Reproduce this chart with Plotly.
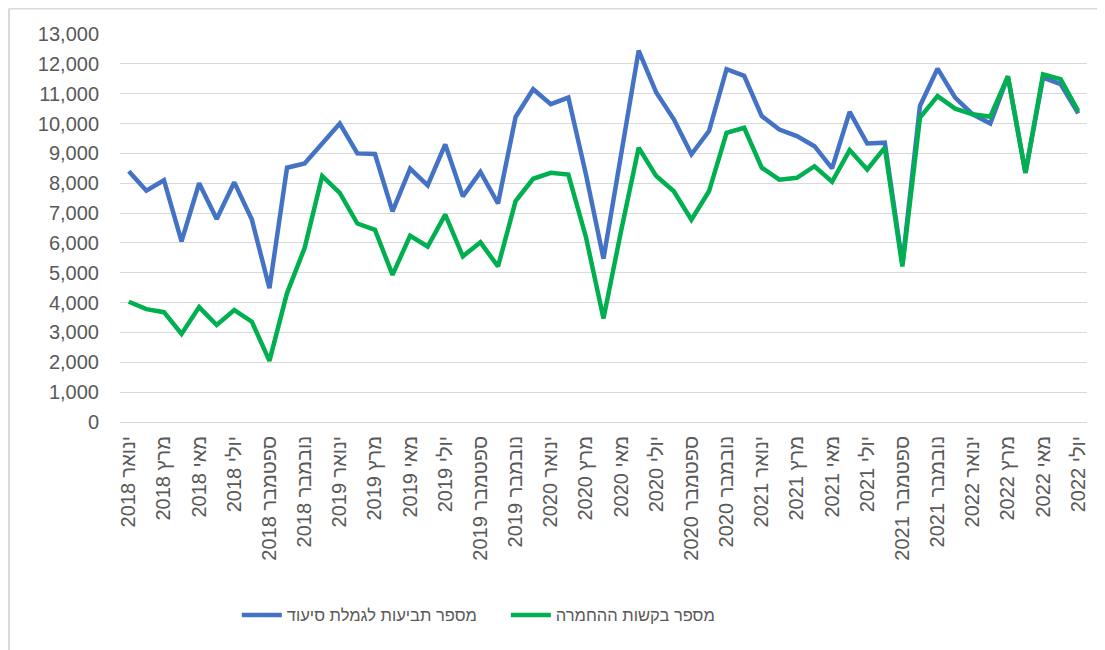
import plotly.graph_objects as go

month_names = ["ינואר", "פברואר", "מרץ", "אפריל", "מאי", "יוני",
               "יולי", "אוגוסט", "ספטמבר", "אוקטובר", "נובמבר", "דצמבר"]
years = [2018, 2019, 2020, 2021, 2022]
categories = [f"{m} {y}" for y in years for m in month_names][:55]  # ינואר 2018 .. יולי 2022
tick_labels = categories[::2]

claims = [8400, 7750, 8100, 6050, 8000, 6800, 8030, 6780, 4480, 8520,
          8660, 9330, 10000, 9000, 8980, 7060, 8490, 7930, 9300, 7560,
          8380, 7320, 10220, 11150, 10650, 10870, 8300, 5470, 9000, 12440,
          11040, 10140, 8970, 9750, 11820, 11600, 10250, 9800, 9580, 9240,
          8500, 10390, 9330, 9360, 5300, 10590, 11840, 10870, 10310, 10000,
          11580, 8350, 11540, 11320, 10340]

requests = [4030, 3780, 3680, 2950, 3850, 3250, 3750, 3360, 2050, 4320,
            5830, 8240, 7680, 6650, 6440, 4930, 6240, 5880, 6950, 5550,
            6020, 5210, 7400, 8150, 8350, 8290, 6200, 3470, 6400, 9190,
            8240, 7730, 6780, 7730, 9690, 9860, 8520, 8120, 8180, 8570,
            8050, 9110, 8460, 9190, 5210, 10200, 10920, 10500, 10310, 10230,
            11580, 8350, 11650, 11490, 10420]

series_names = ["מספר תביעות לגמלת סיעוד", "מספר בקשות ההחמרה"]
colors = ["#4472C4", "#00B050"]

FONT = "Liberation Sans, Arial, DejaVu Sans, sans-serif"
TXT = "#595959"

fig = go.Figure()
for name, vals, col in zip(series_names, [claims, requests], colors):
    fig.add_trace(go.Scatter(x=categories, y=vals, mode="lines", name=name,
                             line=dict(color=col, width=4.5)))

fig.update_layout(
    width=1097, height=642,
    margin=dict(l=112, r=18, t=26, b=228),
    paper_bgcolor="white", plot_bgcolor="white",
    font=dict(family=FONT, size=20, color=TXT),
    showlegend=True,
    legend=dict(orientation="h", x=0.399, xanchor="center", y=-0.498, yanchor="middle",
                font=dict(size=16.5, color=TXT), itemwidth=40, traceorder="normal",
                entrywidth=214, entrywidthmode="pixels"),
    shapes=[
        dict(type="line", xref="paper", yref="paper", x0=-0.1148, x1=-0.1148, y0=1.0657, y1=-0.59,
             line=dict(color="#d9d9d9", width=2)),
        dict(type="line", xref="paper", yref="paper", x0=-0.1148, x1=1.02, y0=1.0657, y1=1.0657,
             line=dict(color="#d9d9d9", width=2)),
    ],
)
fig.update_xaxes(type="category", range=[-0.5, 54.5], tickmode="array",
                 tickvals=tick_labels, ticktext=tick_labels, tickangle=-90,
                 showgrid=False, showline=False, zeroline=False, ticks="",
                 ticklabelstandoff=9,
                 tickfont=dict(size=20, color=TXT), automargin=False)
fig.update_yaxes(range=[0, 13000], dtick=1000, tickformat=",d",
                 showgrid=True, gridcolor="#d9d9d9", gridwidth=1,
                 zeroline=True, zerolinecolor="#d9d9d9", zerolinewidth=1,
                 showline=False, ticks="", ticklabelstandoff=20,
                 tickfont=dict(size=20, color=TXT), automargin=False)

fig.write_html("out.html")
